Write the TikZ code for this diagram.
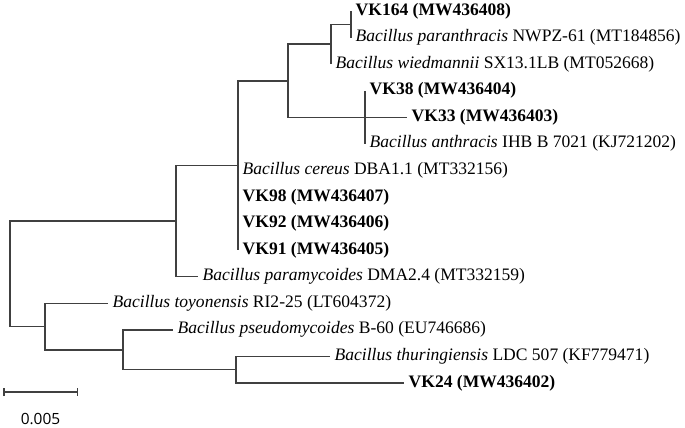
\documentclass[tikz,border=0pt]{standalone}
\usepackage{fontspec}
\setmainfont{Liberation Serif}
\newfontfamily\barfont{Open Sans}
\usetikzlibrary{arrows.meta}
\tikzstyle{branch} = [draw=black!75, line width=1.5bp]
\tikzstyle{otu} = [anchor=west, inner sep=4.5bp, font=\fontsize{17.6}{20}\selectfont, text height=12bp, text depth=4bp]
\tikzstyle{isolate} = [otu, font=\fontsize{17.6}{20}\selectfont\bfseries]
\newcommand{\bac}[1]{\textit{Bacillus #1}}

\begin{document}
\begin{tikzpicture}[x=1bp, y=-1bp]
	\useasboundingbox (0,0) rectangle (685,427);
	\coordinate (root) at (10,273.8);
	\coordinate (nA) at (351,24.3);
	\coordinate (nB) at (331,44.2);
	\coordinate (nC) at (365,117.3);
	\coordinate (nD) at (288,80.8);
	\coordinate (nE) at (238,165.4);
	\coordinate (nF) at (176,221);
	\coordinate (nG) at (236,369.7);
	\coordinate (nH) at (123,349.8);
	\coordinate (nI) at (45,326.5);
	\node [isolate] (vk164) at (351,11) {VK164 (MW436408)};
	\node [otu] (paranth) at (351,37.6) {\bac{paranthracis} NWPZ-61 (MT184856)};
	\node [otu] (wied) at (331,64.1) {\bac{wiedmannii} SX13.1LB (MT052668)};
	\node [isolate] (vk38) at (365,90.7) {VK38 (MW436404)};
	\node [isolate] (vk33) at (407,117.3) {VK33 (MW436403)};
	\node [otu] (anthr) at (365,143.9) {\bac{anthracis} IHB B 7021 (KJ721202)};
	\node [otu] (cereus) at (238,170.4) {\bac{cereus} DBA1.1 (MT332156)};
	\node [isolate] (vk98) at (238,197) {VK98 (MW436407)};
	\node [isolate] (vk92) at (238,223.6) {VK92 (MW436406)};
	\node [isolate] (vk91) at (238,250.1) {VK91 (MW436405)};
	\node [otu] (paramy) at (198,276.7) {\bac{paramycoides} DMA2.4 (MT332159)};
	\node [otu] (toyon) at (108,303.3) {\bac{toyonensis} RI2-25 (LT604372)};
	\node [otu] (pseudo) at (173,329.9) {\bac{pseudomycoides} B-60 (EU746686)};
	\node [otu] (thur) at (330,356.4) {\bac{thuringiensis} LDC 507 (KF779471)};
	\node [isolate] (vk24) at (404,383) {VK24 (MW436402)};
	\draw [branch] (nA) |- (vk164.west);
	\draw [branch] (nA) |- (paranth.west);
	\draw [branch] (nB) |- (nA);
	\draw [branch] (nB) |- (wied.west);
	\draw [branch] (nC) |- (vk38.west);
	\draw [branch] (nC) |- (vk33.west);
	\draw [branch] (nC) |- (anthr.west);
	\draw [branch] (nD) |- (nB);
	\draw [branch] (nD) |- (nC);
	\draw [branch] (nE) |- (nD);
	\draw [branch] (nE) |- (cereus.west);
	\draw [branch] (nE) |- (vk98.west);
	\draw [branch] (nE) |- (vk92.west);
	\draw [branch] (nE) |- (vk91.west);
	\draw [branch] (nF) |- (nE);
	\draw [branch] (nF) |- (paramy.west);
	\draw [branch] (root) |- (nF);
	\draw [branch] (root) |- (nI);
	\draw [branch] (nI) |- (toyon.west);
	\draw [branch] (nI) |- (nH);
	\draw [branch] (nH) |- (pseudo.west);
	\draw [branch] (nH) |- (nG);
	\draw [branch] (nG) |- (thur.west);
	\draw [branch] (nG) |- (vk24.west);
	\coordinate (sbL) at (3,392);
	\coordinate (sbR) at (78,392);
	\draw [branch, {Bar[width=8bp]}-{Bar[width=8bp]}] (sbL) -- (sbR);
	\node [font=\barfont\fontsize{15.5}{18}\selectfont, inner sep=0pt] (sbtext) at (40.5,419) {0.005};
\end{tikzpicture}
\end{document}
